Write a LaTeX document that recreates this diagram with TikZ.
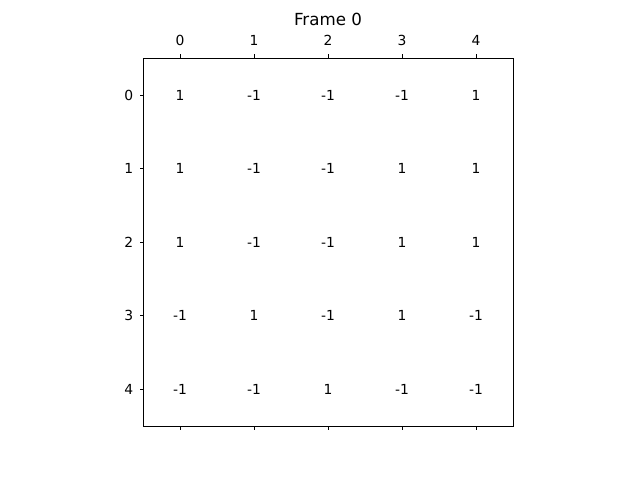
\documentclass[tikz,border=0pt]{standalone}
\usepackage{fontspec}
\setmainfont{DejaVu Sans}
\begin{document}
\begin{tikzpicture}[x=0.75pt,y=-0.75pt,
  axisline/.style={draw=black,line width=0.6pt},
  tickline/.style={draw=black,line width=0.6pt},
  ticklbl/.style={font=\fontsize{10.4}{12}\selectfont,inner sep=0pt},
  cell/.style={font=\fontsize{10.4}{12}\selectfont,inner sep=0pt},
  titlelbl/.style={font=\fontsize{12.5}{15}\selectfont,inner sep=0pt}]
\useasboundingbox (0,0) rectangle (640,480);
\node[axisline,minimum width=370*0.75pt,minimum height=368.5*0.75pt,inner sep=0pt] (ax) at (328,242.2) {};
\node[titlelbl] (title) at (328,19.5) {Frame 0};
\foreach \i in {0,...,4}{
  \pgfmathsetmacro{\xx}{180+74*\i}
  \pgfmathsetmacro{\yy}{95+73.6*\i}
  \coordinate (tt\i) at (\xx,57.9);
  \coordinate (tte\i) at (\xx,54.4);
  \draw[tickline] (tt\i) -- (tte\i);
  \coordinate (tb\i) at (\xx,426.5);
  \coordinate (tbe\i) at (\xx,430);
  \draw[tickline] (tb\i) -- (tbe\i);
  \coordinate (tl\i) at (143.2,\yy);
  \coordinate (tle\i) at (139.7,\yy);
  \draw[tickline] (tl\i) -- (tle\i);
  \node[ticklbl] (xl\i) at (\xx,40) {\i};
  \node[ticklbl,anchor=east] (yl\i) at (133.5,\yy) {\i};
}
\foreach \r/\vals in {0/{1,-1,-1,-1,1},1/{1,-1,-1,1,1},2/{1,-1,-1,1,1},3/{-1,1,-1,1,-1},4/{-1,-1,1,-1,-1}}{
  \foreach \v [count=\c from 0] in \vals {
    \node[cell] (c\r\c) at ({180+74*\c},{95+73.6*\r}) {\v};
  }
}
\end{tikzpicture}
\end{document}
